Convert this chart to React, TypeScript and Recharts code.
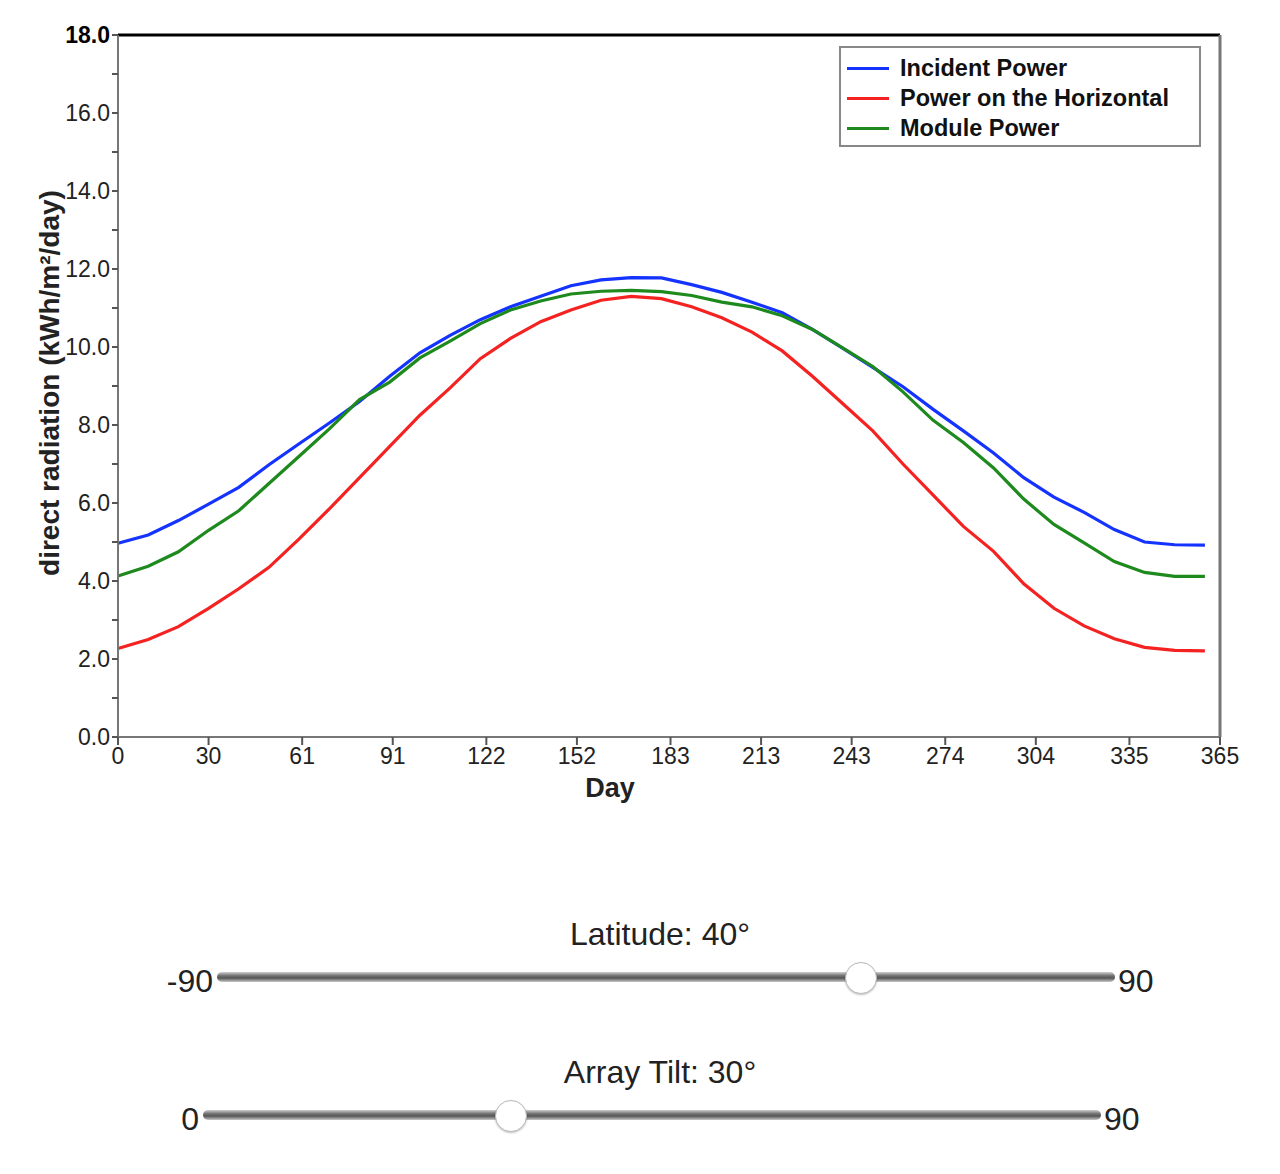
import React from 'react'
import { LineChart, Line, XAxis, YAxis, Legend, ReferenceLine, Label } from 'recharts'

const FONT = '"Liberation Sans", Arial, Helvetica, sans-serif'

// sample days (every 10 days)
const days = [0, 10, 20, 30, 40, 50, 60, 70, 80, 90, 100, 110, 120, 130, 140, 150, 160, 170, 180,
  190, 200, 210, 220, 230, 240, 250, 260, 270, 280, 290, 300, 310, 320, 330, 340, 350, 360]

const incidentPower = [4.97, 5.18, 5.55, 5.97, 6.4, 6.98, 7.52, 8.05, 8.6, 9.25, 9.85, 10.3, 10.7, 11.03,
  11.3, 11.57, 11.72, 11.78, 11.77, 11.6, 11.4, 11.15, 10.88, 10.45, 9.97, 9.48, 8.98, 8.4, 7.85, 7.28,
  6.65, 6.15, 5.76, 5.32, 5.0, 4.93, 4.92]

const horizontalPower = [2.27, 2.5, 2.83, 3.3, 3.8, 4.35, 5.08, 5.85, 6.65, 7.45, 8.25, 8.95, 9.7, 10.22,
  10.65, 10.95, 11.2, 11.3, 11.24, 11.03, 10.75, 10.38, 9.9, 9.25, 8.55, 7.85, 7.0, 6.2, 5.4, 4.76,
  3.93, 3.3, 2.85, 2.52, 2.3, 2.22, 2.21]

const modulePower = [4.13, 4.38, 4.75, 5.3, 5.8, 6.5, 7.2, 7.9, 8.65, 9.1, 9.72, 10.15, 10.6, 10.95,
  11.18, 11.36, 11.43, 11.45, 11.42, 11.32, 11.15, 11.03, 10.8, 10.45, 9.98, 9.5, 8.85, 8.12, 7.55, 6.9,
  6.1, 5.45, 4.98, 4.5, 4.22, 4.12, 4.12]

const xTicks = [0, 30, 61, 91, 122, 152, 183, 213, 243, 274, 304, 335, 365]
const yTicks = [0, 1, 2, 3, 4, 5, 6, 7, 8, 9, 10, 11, 12, 13, 14, 15, 16, 17, 18]

const series = [
  { key: 'incident', name: 'Incident Power', color: '#1433ff', values: incidentPower },
  { key: 'horizontal', name: 'Power on the Horizontal', color: '#f52222', values: horizontalPower },
  { key: 'module', name: 'Module Power', color: '#1e8a1e', values: modulePower },
]

const rows = days.map((d, i) => {
  const row: any = { day: d }
  for (const s of series) row[s.key] = s.values[i]
  return row
})

function YTick(props: any) {
  const { x, y, payload } = props
  const v = payload.value
  if (v % 2 !== 0) return <g />
  return (
    <text x={x} y={y} dy="0.36em" textAnchor="end" fontFamily={FONT} fontSize={23}
      fill={v === 18 ? '#000' : '#222'} fontWeight={v === 18 ? 'bold' : 'normal'}>
      {v.toFixed(1)}
    </text>
  )
}

function LegendBox(props: any) {
  const order = (it: any) => series.findIndex(s => s.name === it.value)
  const items = [...(props.payload || [])].sort((a: any, b: any) => order(a) - order(b))
  return (
    <div style={{ boxSizing: 'border-box', width: 362, height: 101, border: '2px solid #888',
      background: '#fff', position: 'relative', fontFamily: FONT }}>
      {items.map((it: any, i: number) => (
        <div key={i} style={{ position: 'absolute', left: 6, top: 8 + i * 30, height: 24,
          display: 'flex', alignItems: 'center' }}>
          <div style={{ width: 42, height: 3, background: it.color }} />
          <span style={{ marginLeft: 11, fontSize: 23.5, fontWeight: 'bold', color: '#111', whiteSpace: 'nowrap' }}>
            {it.value}
          </span>
        </div>
      ))}
    </div>
  )
}

function Slider({ title, value, min, max, left, right, trackY, titleY }: any) {
  const knob = 32
  const frac = (value - min) / (max - min)
  const cx = left + knob / 2 + frac * (right - left - knob)
  const txt: React.CSSProperties = { position: 'absolute', fontFamily: FONT, fontSize: 32, color: '#222', lineHeight: '36px' }
  return (
    <>
      <div style={{ ...txt, left: 0, width: 1304, top: titleY - 18, textAlign: 'center' }}>{title}</div>
      <div style={{ ...txt, right: 1264 - left + 4, top: trackY - 14, textAlign: 'right' }}>{min}</div>
      <div style={{ ...txt, left: right + 3, top: trackY - 14 }}>{max}</div>
      <div style={{ position: 'absolute', left, width: right - left, top: trackY - 5, height: 10, borderRadius: 5,
        background: 'linear-gradient(#d0d0d0 0%, #777 35%, #555 60%, #c8c8c8 100%)' }} />
      <div style={{ position: 'absolute', left: cx - knob / 2 + 3, top: trackY - knob / 2 + 1, width: knob, height: knob,
        boxSizing: 'border-box', borderRadius: '50%', background: '#fff', border: '1px solid #bbb',
        boxShadow: '0 1px 2px rgba(0,0,0,0.25)' }} />
    </>
  )
}

export default function App() {
  return (
    <div style={{ position: 'relative', width: 1264, height: 1160 }}>
      <LineChart width={1240} height={810} data={rows} margin={{ top: 27, right: 28, left: 0, bottom: 0 }}>
        <XAxis dataKey="day" type="number" domain={[0, 365]} ticks={xTicks} interval={0}
          height={81} tickSize={8} tickMargin={3}
          axisLine={{ stroke: '#777', strokeWidth: 2 }} tickLine={{ stroke: '#555', strokeWidth: 2 }}
          tick={{ fill: '#222', fontSize: 23, fontFamily: FONT }}>
          <Label content={(p: any) => {
            const vb = p.viewBox
            return (
              <text x={vb.x + vb.width / 2 - 59} y={vb.y + 60} textAnchor="middle"
                fontFamily={FONT} fontSize={27} fontWeight="bold" fill="#222">Day</text>
            )
          }} />
        </XAxis>
        <YAxis type="number" domain={[0, 18]} ticks={yTicks} interval={0} width={110}
          tickSize={6} tickMargin={2}
          axisLine={{ stroke: '#777', strokeWidth: 2 }} tickLine={{ stroke: '#555', strokeWidth: 2 }}
          tick={<YTick />}>
          <Label content={() => (
            <text x={41} y={375} transform="rotate(-90 41 375)" textAnchor="middle" dominantBaseline="central"
              fontFamily={FONT} fontSize={28} fontWeight="bold" fill="#222">
              direct radiation (kWh/m²/day)
            </text>
          )} />
        </YAxis>
        <ReferenceLine y={18} stroke="#000" strokeWidth={3} />
        <ReferenceLine x={365} stroke="#777" strokeWidth={3} />
        {series.map(s => (
          <Line key={s.key} type="linear" dataKey={s.key} name={s.name} stroke={s.color}
            strokeWidth={3.2} dot={false} isAnimationActive={false} />
        ))}
        <Legend layout="horizontal" verticalAlign="middle" align="center"
          wrapperStyle={{ top: 38, left: 831, width: 362 }} content={<LegendBox />} />
      </LineChart>
      <Slider title="Latitude: 40°" value={40} min={-90} max={90} left={209} right={1107} trackY={969} titleY={926} />
      <Slider title="Array Tilt: 30°" value={30} min={0} max={90} left={195} right={1093} trackY={1107} titleY={1064} />
    </div>
  )
}
